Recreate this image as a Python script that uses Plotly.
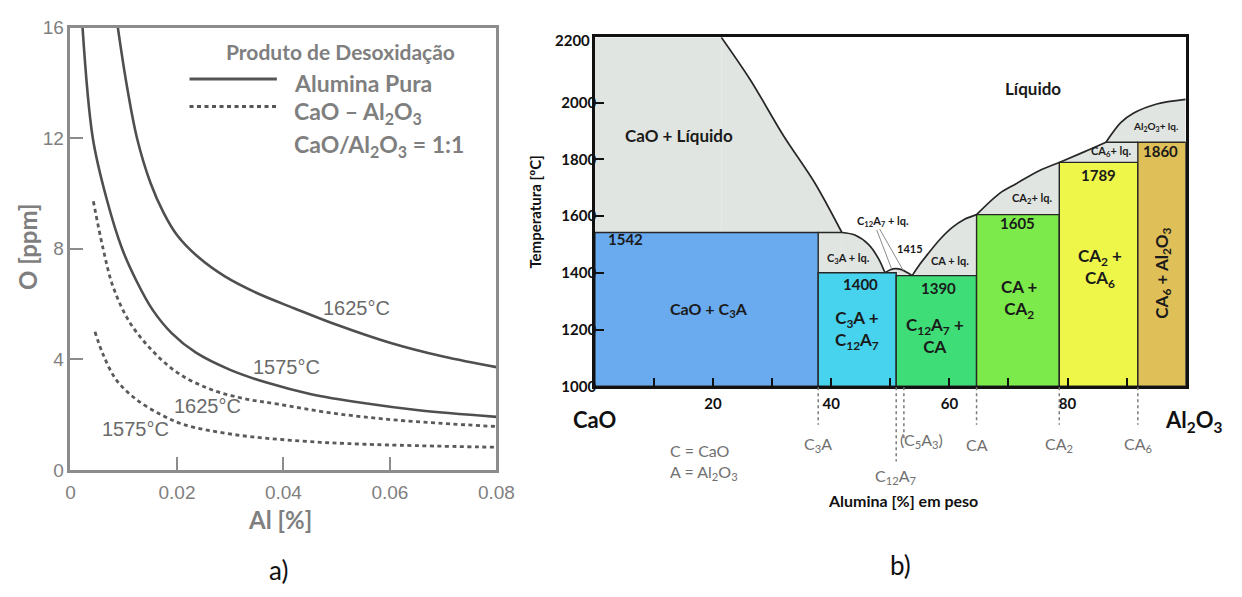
import plotly.graph_objects as go

W, H = 1242, 597

# ---------------- Panel a: oxygen in equilibrium with Al ----------------
al_pure_1575 = [0.00227, 0.0042, 0.0068, 0.0097, 0.0125, 0.0154, 0.019, 0.0235, 0.030, 0.037, 0.045, 0.055, 0.065, 0.080]
o_pure_1575 = [16.0, 12.0, 9.8, 8.0, 6.8, 5.8, 4.95, 4.25, 3.62, 3.15, 2.75, 2.42, 2.17, 1.92]

al_pure_1625 = [0.0089, 0.0105, 0.0125, 0.015, 0.0175, 0.020, 0.024, 0.029, 0.035, 0.042, 0.050, 0.060, 0.070, 0.080]
o_pure_1625 = [16.0, 14.0, 12.0, 10.4, 9.3, 8.5, 7.7, 7.0, 6.4, 5.85, 5.25, 4.6, 4.1, 3.72]

al_cao_1625 = [0.0043, 0.0061, 0.0080, 0.0111, 0.0154, 0.0203, 0.0264, 0.0326, 0.039, 0.049, 0.0614, 0.080]
o_cao_1625 = [9.72, 8.03, 6.63, 5.35, 4.31, 3.49, 2.91, 2.58, 2.38, 2.06, 1.80, 1.57]

al_cao_1575 = [0.0046, 0.0061, 0.0086, 0.0123, 0.0172, 0.0215, 0.0307, 0.043, 0.0553, 0.080]
o_cao_1575 = [5.0, 4.19, 3.26, 2.56, 1.98, 1.63, 1.28, 1.05, 0.93, 0.82]

a_xticks = [0, 0.02, 0.04, 0.06, 0.08]
a_xticktext = ["0", "0.02", "0.04", "0.06", "0.08"]
a_yticks = [0, 4, 8, 12, 16]

# ---------------- Panel b: CaO-Al2O3 phase diagram ----------------
# compounds (wt% Al2O3)
comp_names = ["C<sub>3</sub>A", "C<sub>12</sub>A<sub>7</sub>", "(C<sub>5</sub>A<sub>3</sub>)", "CA", "CA<sub>2</sub>", "CA<sub>6</sub>"]
comp_x = [37.8, 51.0, 52.3, 64.6, 78.6, 91.9]

# solid two-phase fields: left, right, top temperature, colour
box_labels = ["CaO + C<sub>3</sub>A", "C<sub>3</sub>A +<br>C<sub>12</sub>A<sub>7</sub>", "C<sub>12</sub>A<sub>7</sub> +<br>CA",
              "CA +<br>CA<sub>2</sub>", "CA<sub>2</sub> +<br>CA<sub>6</sub>", "CA<sub>6</sub> + Al<sub>2</sub>O<sub>3</sub>"]
box_left = [0, 37.8, 51.0, 64.6, 78.6, 91.9]
box_right = [37.8, 51.0, 64.6, 78.6, 91.9, 100]
box_top = [1542, 1400, 1390, 1605, 1789, 1860]
box_colors = ["#6aaaee", "#47d3ee", "#3fdd77", "#7dea4b", "#eef64a", "#dfbf57"]

# liquidus, one branch per primary phase
liq_cao_x = [21.4, 26.4, 31.9, 37.3, 41.8]
liq_cao_t = [2230, 2077, 1884, 1714, 1542]
liq_c3a_x = [41.8, 44.0, 46.3, 48.0, 49.1]
liq_c3a_t = [1542, 1533, 1500, 1450, 1400]
liq_c12a7_x = [49.1, 50.0, 50.9, 51.9, 53.0, 53.7]
liq_c12a7_t = [1400, 1411, 1415, 1411, 1399, 1390]
liq_ca_x = [53.7, 55.0, 56.3, 58.5, 60.5, 62.5, 64.6]
liq_ca_t = [1390, 1430, 1465, 1520, 1560, 1588, 1605]
liq_ca2_x = [64.6, 68.5, 71.3, 75.1, 78.6]
liq_ca2_t = [1605, 1680, 1714, 1759, 1789]
liq_ca6_x = [78.6, 82.9, 86.5]
liq_ca6_t = [1789, 1827, 1860]
liq_al2o3_x = [86.5, 89.0, 91.2, 95.1, 100.0]
liq_al2o3_t = [1860, 1929, 1963, 1995, 2011]

# peritectic lines not covered by the solid fields
perit_x0 = [37.8, 86.5]
perit_x1 = [41.8, 91.9]
perit_t = [1542, 1860]

T_MIN, T_MAX = 1000, 2230

GREY = "#e1e5e1"
EDGE = "#262626"

fig = go.Figure()

# ---- panel a curves
solid = dict(color="#4f4f4f", width=2.6, shape="spline", smoothing=1.0)
dashed = dict(color="#5a5a5a", width=2.8, dash="4px,3.5px", shape="spline", smoothing=1.0)
for xs, ys, ln in [(al_pure_1625, o_pure_1625, solid), (al_pure_1575, o_pure_1575, solid),
                   (al_cao_1625, o_cao_1625, dashed), (al_cao_1575, o_cao_1575, dashed)]:
    fig.add_trace(go.Scatter(x=xs, y=ys, mode="lines", line=ln, xaxis="x", yaxis="y",
                             showlegend=False, hoverinfo="skip"))

# ---- panel b
branches = [(liq_cao_x, liq_cao_t), (liq_c3a_x, liq_c3a_t), (liq_c12a7_x, liq_c12a7_t),
            (liq_ca_x, liq_ca_t), (liq_ca2_x, liq_ca2_t), (liq_ca6_x, liq_ca6_t),
            (liq_al2o3_x, liq_al2o3_t)]

# grey liquid+solid area: left strip up to the top, then everything under the liquidus
fig.add_trace(go.Scatter(x=[0, 0, liq_cao_x[0], liq_cao_x[0], 0], y=[T_MIN, T_MAX, T_MAX, T_MIN, T_MIN],
                         mode="lines", fill="toself", fillcolor=GREY, line=dict(width=0),
                         xaxis="x2", yaxis="y2", showlegend=False, hoverinfo="skip"))
for bx, bt in branches:
    fig.add_trace(go.Scatter(x=bx, y=bt, mode="lines", fill="tozeroy", fillcolor=GREY,
                             line=dict(width=0, shape="spline", smoothing=0.9),
                             xaxis="x2", yaxis="y2", showlegend=False, hoverinfo="skip"))

# solid fields
for l, r, top, c in zip(box_left, box_right, box_top, box_colors):
    fig.add_trace(go.Scatter(x=[l, l, r, r, l], y=[T_MIN, top, top, T_MIN, T_MIN], mode="lines",
                             fill="toself", fillcolor=c, line=dict(color=EDGE, width=1.4),
                             xaxis="x2", yaxis="y2", showlegend=False, hoverinfo="skip"))

# peritectic lines
px_, pt_ = [], []
for a, b, t in zip(perit_x0, perit_x1, perit_t):
    px_ += [a, b, None]
    pt_ += [t, t, None]
fig.add_trace(go.Scatter(x=px_, y=pt_, mode="lines", line=dict(color=EDGE, width=1.4),
                         xaxis="x2", yaxis="y2", showlegend=False, hoverinfo="skip"))

# liquidus lines on top
for bx, bt in branches:
    fig.add_trace(go.Scatter(x=bx, y=bt, mode="lines",
                             line=dict(color=EDGE, width=1.7, shape="spline", smoothing=0.9),
                             xaxis="x2", yaxis="y2", showlegend=False, hoverinfo="skip"))


def px_x(p):
    return p / W


def px_y(p):
    return 1 - p / H


A_GREY = "#7f7f7f"
TICK_GREY = "#808080"
FONT_B = "Lato"

fig.update_layout(
    width=W, height=H, margin=dict(l=0, r=0, t=0, b=0),
    paper_bgcolor="white", plot_bgcolor="rgba(0,0,0,0)",
    xaxis=dict(domain=[px_x(66.7), px_x(500.7)], range=[0, 0.08], anchor="y",
               tickvals=a_xticks, ticktext=a_xticktext, ticks="inside", ticklen=13, tickwidth=2,
               tickcolor="#8c8c8c", showline=True, linecolor="#8c8c8c", linewidth=2.5, mirror=True,
               showgrid=False, zeroline=False, ticklabelstandoff=4,
               tickfont=dict(family="Liberation Sans", size=19, color=TICK_GREY)),
    yaxis=dict(domain=[px_y(476.7), px_y(18.3)], range=[0, 16], anchor="x",
               tickvals=a_yticks, ticks="inside", ticklen=13, tickwidth=2,
               tickcolor="#8c8c8c", showline=True, linecolor="#8c8c8c", linewidth=2.5, mirror=True,
               showgrid=False, zeroline=False,
               tickfont=dict(family="Liberation Sans", size=19, color=TICK_GREY)),
    xaxis2=dict(domain=[px_x(601), px_x(1203)], range=[0, 100], anchor="y2",
                tickvals=[10, 20, 30, 40, 50, 60, 70, 80, 90],
                ticktext=["", "20", "", "40", "", "60", "", "80", ""],
                ticks="inside", ticklen=9, tickwidth=2, tickcolor="#111",
                showline=True, linecolor="#111", linewidth=2.5, mirror=True,
                showgrid=False, zeroline=False, ticklabelstandoff=2,
                tickfont=dict(family=FONT_B, size=15, color="#111", weight="bold")),
    yaxis2=dict(domain=[px_y(390), px_y(28.3)], range=[T_MIN, T_MAX], anchor="x2",
                tickvals=[1000, 1200, 1400, 1600, 1800, 2000],
                ticks="inside", ticklen=9, tickwidth=2, tickcolor="#111",
                showline=True, linecolor="#111", linewidth=2.5, mirror=True,
                showgrid=False, zeroline=False, ticklabelstandoff=-7,
                tickfont=dict(family=FONT_B, size=15, color="#111", weight="bold")),
)

ann = []


def text(x, y, s, size, color="#1a1a1a", family=FONT_B, weight="bold", xref="x2", yref="y2",
         xanchor="center", angle=0):
    ann.append(dict(x=x, y=y, xref=xref, yref=yref, text=s, showarrow=False, xanchor=xanchor,
                    yanchor="middle", textangle=angle,
                    font=dict(family=family, size=size, color=color, weight=weight)))


# ---- panel a texts
text(px_x(223), px_y(43), "Produto de Desoxidação", 21, A_GREY, xref="paper", yref="paper", xanchor="left")
text(px_x(292), px_y(76), "Alumina Pura", 23, A_GREY, xref="paper", yref="paper", xanchor="left")
text(px_x(292), px_y(106), "CaO – Al<sub>2</sub>O<sub>3</sub>", 23, A_GREY, xref="paper", yref="paper", xanchor="left")
text(px_x(292), px_y(140), "CaO/Al<sub>2</sub>O<sub>3</sub> = 1:1", 23, A_GREY, xref="paper", yref="paper", xanchor="left")
text(px_x(23), px_y(246), "O [ppm]", 24, A_GREY, xref="paper", yref="paper", angle=-90)
text(px_x(280), px_y(528), "Al [%]", 24, A_GREY, xref="paper", yref="paper")
text(px_x(279), px_y(580), "a)", 26, "#111", weight="normal", xref="paper", yref="paper")

curve_lbl = dict(family="Liberation Sans", weight="normal", xref="x", yref="y")
text(0.0537, 5.85, "1625°C", 20, "#6a6a6a", **curve_lbl)
text(0.0406, 3.72, "1575°C", 20, "#6a6a6a", **curve_lbl)
text(0.0257, 2.33, "1625°C", 20, "#6a6a6a", **curve_lbl)
text(0.01225, 1.49, "1575°C", 20, "#6a6a6a", **curve_lbl)

# ---- panel b field labels
text(14.3, 1884, "CaO + Líquido", 17)
text(74.1, 2051, "Líquido", 17)
text(1.8, 1520, "1542", 15, xanchor="left")
text(19.3, 1269, box_labels[0], 16)
text(44.4, 1200, box_labels[1], 17)
text(57.6, 1178, box_labels[2], 17)
text(71.9, 1306, box_labels[3], 17)
text(85.5, 1416, box_labels[4], 17)
text(96.2, 1398, box_labels[5], 17, angle=-90)
for x, t, s in zip([44.9, 58.1, 71.6, 85.2, 95.8], [1360, 1347, 1575, 1745, 1830],
                   ["1400", "1390", "1605", "1789", "1860"]):
    text(x, t, s, 15)
text(42.9, 1452, "C<sub>3</sub>A + lq.", 11)
text(60.1, 1442, "CA + lq.", 11)
text(73.9, 1663, "CA<sub>2</sub>+ lq.", 11)
text(87.4, 1826, "CA<sub>6</sub>+ lq.", 11)
text(94.9, 1915, "Al<sub>2</sub>O<sub>3</sub>+ lq.", 10)
text(48.8, 1581, "C<sub>12</sub>A<sub>7</sub> + lq.", 11)
text(53.3, 1486, "1415", 11)

# y label 2200 at the top edge
text(px_x(598), px_y(31), "2200", 15, "#111", xref="paper", yref="paper", xanchor="right")

# compound markers under the composition axis
drop_to = [430, 468, 447, 430, 430, 430]
lbl_y = [450, 483, 446, 450, 450, 450]
shapes = []
for cx, d, ly, nm in zip(comp_x, drop_to, lbl_y, comp_names):
    shapes.append(dict(type="line", xref="x2", yref="paper", x0=cx, x1=cx, y0=px_y(391), y1=px_y(d),
                       line=dict(color="#7a7a7a", width=1.5, dash="dot")))
    xoff = 2.9 if nm.startswith("(") else 0
    text(cx + xoff, px_y(ly), nm, 16, "#707070", weight="normal", yref="paper")

text(px_x(675), px_y(457), "C = CaO", 16, "#707070", weight="normal", xref="paper", yref="paper", xanchor="left")
text(px_x(675), px_y(479), "A = Al<sub>2</sub>O<sub>3</sub>", 16, "#707070", weight="normal", xref="paper",
     yref="paper", xanchor="left")
text(px_x(601), px_y(424), "CaO", 22, "#111", xref="paper", yref="paper")
text(px_x(1211), px_y(426), "Al<sub>2</sub>O<sub>3</sub>", 22, "#111", xref="paper", yref="paper")
text(px_x(915), px_y(508), "Alumina [%] em peso", 16, "#111", xref="paper", yref="paper")
text(px_x(540), px_y(210), "Temperatura [ºC]", 15, "#111", xref="paper", yref="paper", angle=-90)
text(px_x(912), px_y(575), "b)", 26, "#111", weight="normal", xref="paper", yref="paper")

# leader lines for the C12A7 liquidus
shapes.append(dict(type="line", xref="x2", yref="y2", x0=47.7, y0=1551, x1=50.2, y1=1415,
                   line=dict(color="#8a8a8a", width=1)))
shapes.append(dict(type="line", xref="x2", yref="y2", x0=48.2, y0=1554, x1=52.2, y1=1408,
                   line=dict(color="#8a8a8a", width=1)))

# legend samples for panel a
shapes.append(dict(type="line", xref="paper", yref="paper", x0=px_x(188), x1=px_x(277), y0=px_y(71.5),
                   y1=px_y(71.5), line=dict(color="#555", width=3)))
shapes.append(dict(type="line", xref="paper", yref="paper", x0=px_x(188), x1=px_x(277), y0=px_y(100),
                   y1=px_y(100), line=dict(color="#555", width=3, dash="4px,3.5px")))

fig.update_layout(annotations=ann, shapes=shapes)

fig.write_html("out.html")
